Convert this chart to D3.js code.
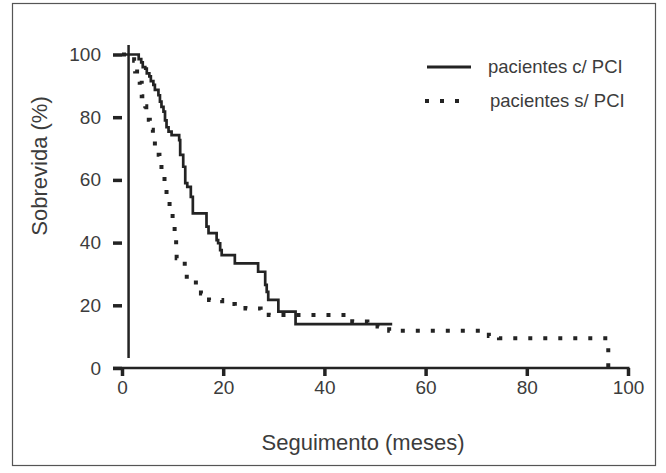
<!DOCTYPE html>
<html>
<head>
<meta charset="utf-8">
<script src="https://cdnjs.cloudflare.com/ajax/libs/d3/7.8.5/d3.min.js"></script>
<style>
  html, body { margin: 0; padding: 0; background: #fff; }
  svg { display: block; font-family: 'Liberation Sans', Arial, sans-serif; }
</style>
</head>
<body>
<script>
// Kaplan-Meier steps: month at which survival drops, survival (%) after the drop
const withPciMonths = [0, 3.3, 3.8, 4.1, 4.6, 4.9, 5.4, 5.7, 6.2, 6.5, 7.2, 7.5, 7.8, 8.2, 8.5, 8.8, 9.2, 9.8, 11.3, 11.5, 12.1, 12.5, 12.9, 13.6, 14.0, 16.7, 17.1, 18.7, 19.0, 19.4, 19.7, 22.3, 26.9, 28.3, 28.6, 28.9, 30.9, 34.3, 53.4];
const withPciSurv = [100, 98.5, 97.5, 96, 95.5, 94, 93, 91.5, 90.3, 88.7, 87, 85, 83.3, 81.8, 79, 76.8, 75.4, 74.3, 72.7, 68, 64.2, 59, 57.8, 54.6, 49.3, 45.1, 43, 40.8, 39.8, 37.6, 36, 33.4, 30.7, 26.5, 24.3, 21.7, 18, 14, 14];

const withoutPciMonths = [0, 2.4, 2.6, 3.5, 3.9, 4.6, 4.8, 5.5, 6.1, 6.5, 7.4, 7.8, 8.4, 8.8, 9.4, 10.0, 10.4, 10.7, 10.8, 12.4, 12.8, 14.6, 15.6, 17.2, 19.8, 22.3, 24.4, 27.4, 29.0, 45.5, 48.5, 50.5, 52.8, 72.5, 74.5, 96.1];
const withoutPciSurv = [100, 98, 94.6, 91, 86.7, 83.5, 79.2, 76, 73.4, 68, 64.8, 61, 57.8, 53.6, 50.4, 46.7, 42.4, 38.7, 35, 31.8, 28.1, 26.5, 23.8, 21.7, 20.4, 19.8, 19, 18.5, 16.9, 14.8, 14.5, 13.2, 11.9, 10.2, 9.5, 0];

const xTicks = [0, 20, 40, 60, 80, 100];
const yTicks = [0, 20, 40, 60, 80, 100];
const seriesNames = ['pacientes c/ PCI', 'pacientes s/ PCI'];

const width = 666;
const height = 473;
const ink = '#232323';
const textColor = '#3c3c3c';

const svg = d3.select('body')
  .append('svg')
  .attr('width', width)
  .attr('height', height);

svg.append('rect')
  .attr('x', 12.5)
  .attr('y', 3.5)
  .attr('width', 643)
  .attr('height', 462)
  .attr('fill', '#fff')
  .attr('stroke', '#555')
  .attr('stroke-width', 1.2);

const x = d3.scaleLinear().domain([0, 100]).range([122, 628]);
const y = d3.scaleLinear().domain([0, 100]).range([368, 54.5]);

// x axis
const xAxis = svg.append('g')
  .attr('transform', `translate(0, ${y(0)})`)
  .call(d3.axisBottom(x).tickValues(xTicks).tickSize(8).tickSizeOuter(0).tickPadding(5));
xAxis.select('.domain').remove();
xAxis.append('line')
  .attr('x1', x(0) - 9)
  .attr('x2', x(100) + 1.5)
  .attr('stroke', ink)
  .attr('stroke-width', 2.6);
xAxis.selectAll('.tick line').attr('stroke', ink).attr('stroke-width', 3.5);
xAxis.selectAll('.tick text')
  .attr('fill', textColor)
  .style('font-size', '19px');

// y axis (ticks only, no spine)
const yAxis = svg.append('g')
  .attr('transform', `translate(${x(0)}, 0)`)
  .call(d3.axisLeft(y).tickValues(yTicks).tickSize(9).tickSizeOuter(0).tickPadding(12));
yAxis.select('.domain').remove();
yAxis.selectAll('.tick line').attr('stroke', ink).attr('stroke-width', 3.5);
yAxis.selectAll('.tick text')
  .attr('fill', textColor)
  .style('font-size', '19px');

// vertical reference line near the origin
svg.append('line')
  .attr('x1', x(1.3))
  .attr('x2', x(1.3))
  .attr('y1', y(103))
  .attr('y2', y(3.2))
  .attr('stroke', ink)
  .attr('stroke-width', 2.5);

const line = d3.line()
  .x(d => x(d[0]))
  .y(d => y(d[1]))
  .curve(d3.curveStepAfter);

const withPci = d3.zip(withPciMonths, withPciSurv);
const withoutPci = d3.zip(withoutPciMonths, withoutPciSurv);

svg.append('path')
  .datum(withoutPci)
  .attr('d', line)
  .attr('fill', 'none')
  .attr('stroke', ink)
  .attr('stroke-width', 4)
  .attr('stroke-dasharray', '4 11');

svg.append('path')
  .datum(withPci)
  .attr('d', line)
  .attr('fill', 'none')
  .attr('stroke', ink)
  .attr('stroke-width', 2.7);

// legend
const legend = svg.append('g').attr('class', 'legend');
legend.append('line')
  .attr('x1', 427).attr('x2', 471)
  .attr('y1', 67).attr('y2', 67)
  .attr('stroke', ink)
  .attr('stroke-width', 3);
legend.append('line')
  .attr('x1', 425).attr('x2', 462)
  .attr('y1', 101).attr('y2', 101)
  .attr('stroke', ink)
  .attr('stroke-width', 4)
  .attr('stroke-dasharray', '4 11');
legend.selectAll('text')
  .data(seriesNames)
  .enter()
  .append('text')
  .attr('x', (d, i) => (i === 0 ? 488 : 490))
  .attr('y', (d, i) => (i === 0 ? 73 : 107))
  .attr('fill', textColor)
  .style('font-size', '18.5px')
  .text(d => d);

// axis titles
svg.append('text')
  .attr('x', 363)
  .attr('y', 450)
  .attr('text-anchor', 'middle')
  .attr('fill', textColor)
  .style('font-size', '22px')
  .text('Seguimento (meses)');

svg.append('text')
  .attr('transform', 'translate(47, 166) rotate(-90)')
  .attr('text-anchor', 'middle')
  .attr('fill', textColor)
  .style('font-size', '22px')
  .text('Sobrevida (%)');
</script>
</body>
</html>
